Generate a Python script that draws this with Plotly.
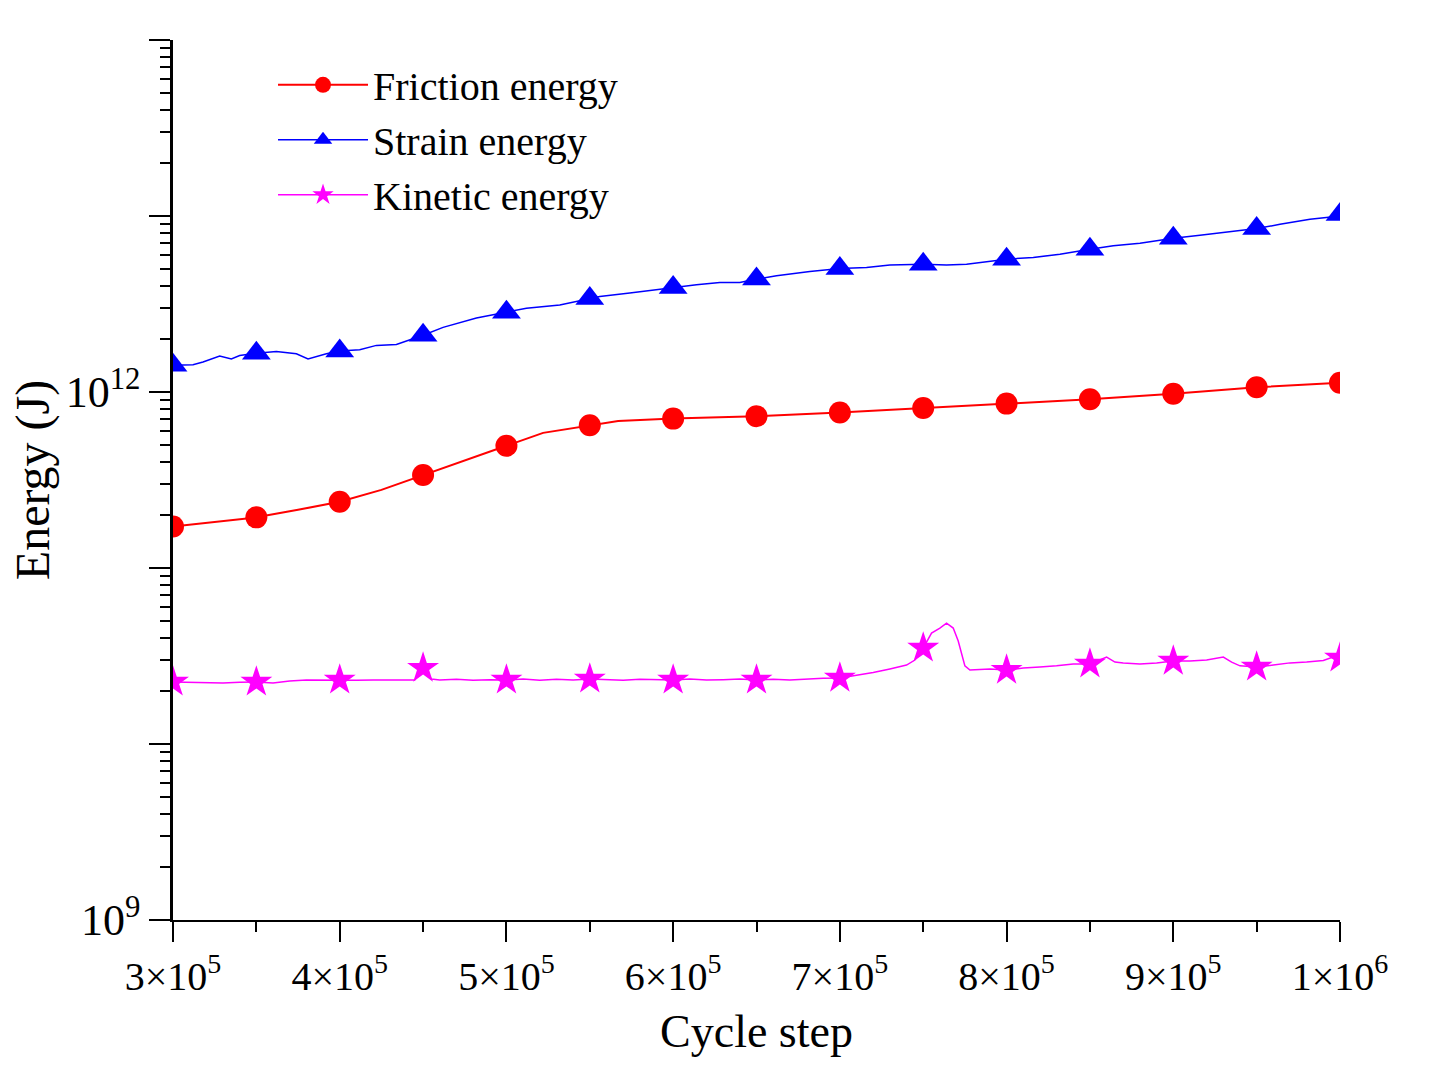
import plotly.graph_objects as go

# ---------------- data ----------------
# cycle steps in thousands, energies in J
friction_x = [300, 325, 350, 375, 400, 425, 450, 476, 500, 522, 550, 567, 600, 650,
              700, 750, 800, 850, 900, 950, 1000]
friction_y = [1.72e11, 1.82e11, 1.94e11, 2.14e11, 2.38e11, 2.78e11, 3.38e11, 4.11e11,
              4.95e11, 5.86e11, 6.48e11, 6.85e11, 7.06e11, 7.29e11, 7.64e11, 8.12e11,
              8.59e11, 9.09e11, 9.78e11, 1.063e12, 1.129e12]

strain_x = [300, 312, 318, 328, 335, 340, 350, 362, 374, 381, 392, 400, 412, 422, 434,
            444, 450, 462, 482, 492, 500, 512, 532, 550, 556, 574, 592, 600, 614, 628,
            640, 650, 662, 682, 700, 716, 730, 750, 764, 776, 784, 800, 816, 832, 850,
            864, 880, 900, 916, 932, 950, 964, 982, 996, 1000]
strain_y = [1.42e12, 1.43e12, 1.48e12, 1.60e12, 1.54e12, 1.61e12, 1.66e12, 1.70e12,
            1.65e12, 1.54e12, 1.65e12, 1.71e12, 1.74e12, 1.84e12, 1.86e12, 2.00e12,
            2.10e12, 2.33e12, 2.63e12, 2.75e12, 2.84e12, 2.99e12, 3.12e12, 3.40e12,
            3.49e12, 3.65e12, 3.83e12, 3.93e12, 4.07e12, 4.19e12, 4.19e12, 4.38e12,
            4.58e12, 4.84e12, 5.03e12, 5.10e12, 5.26e12, 5.32e12, 5.26e12, 5.32e12,
            5.44e12, 5.68e12, 5.81e12, 6.07e12, 6.47e12, 6.77e12, 7.00e12, 7.47e12,
            7.77e12, 8.12e12, 8.48e12, 8.97e12, 9.57e12, 9.91e12, 1.02e13]

kinetic_x = [300, 310, 320, 330, 340, 350, 360, 370, 380, 390, 400, 410, 420, 430, 440,
             445, 450, 455, 460, 470, 480, 490, 500, 510, 520, 530, 540, 550, 560, 570,
             580, 590, 600, 610, 620, 630, 640, 650, 660, 670, 680, 690, 700, 710, 720,
             730, 740, 745, 750, 755, 760, 764, 768, 771, 773, 775, 778, 790, 800, 810,
             820, 830, 840, 850, 860, 865, 870, 880, 890, 900, 910, 920, 930, 935, 940,
             950, 960, 970, 980, 990, 995, 1000]
kinetic_y = [2.25e10, 2.24e10, 2.25e10, 2.22e10, 2.24e10, 2.25e10, 2.22e10, 2.28e10,
             2.31e10, 2.30e10, 2.31e10, 2.30e10, 2.31e10, 2.30e10, 2.31e10, 2.31e10,
             2.70e10, 2.34e10, 2.31e10, 2.33e10, 2.30e10, 2.32e10, 2.31e10, 2.34e10,
             2.30e10, 2.33e10, 2.31e10, 2.34e10, 2.32e10, 2.30e10, 2.33e10, 2.31e10,
             2.31e10, 2.34e10, 2.31e10, 2.32e10, 2.34e10, 2.31e10, 2.33e10, 2.31e10,
             2.34e10, 2.36e10, 2.37e10, 2.45e10, 2.55e10, 2.67e10, 2.81e10, 3.00e10,
             3.51e10, 4.27e10, 4.55e10, 4.86e10, 4.56e10, 3.85e10, 3.25e10, 2.78e10,
             2.63e10, 2.67e10, 2.63e10, 2.70e10, 2.74e10, 2.78e10, 2.85e10, 2.85e10,
             3.12e10, 2.92e10, 2.89e10, 2.85e10, 2.89e10, 2.96e10, 2.96e10, 3.00e10,
             3.12e10, 2.92e10, 2.78e10, 2.74e10, 2.81e10, 2.89e10, 2.92e10, 2.98e10,
             3.10e10, 3.08e10]

x_tick_vals = [300000, 400000, 500000, 600000, 700000, 800000, 900000, 1000000]
x_tick_text = ["3×10<sup>5</sup>", "4×10<sup>5</sup>", "5×10<sup>5</sup>", "6×10<sup>5</sup>",
               "7×10<sup>5</sup>", "8×10<sup>5</sup>", "9×10<sup>5</sup>", "1×10<sup>6</sup>"]
x_minor_vals = [350000, 450000, 550000, 650000, 750000, 850000, 950000]
y_tick_vals = [1e9, 1e10, 1e11, 1e12, 1e13, 1e14]
y_tick_text = ["10<sup>9</sup>", "", "", "10<sup>12</sup>", "", ""]
y_minor_vals = [m * 10 ** e for e in range(9, 14) for m in range(2, 10)]

series = [
    ("Friction energy", friction_x, friction_y, "#FF0000", "circle", 22, 2.0),
    ("Strain energy", strain_x, strain_y, "#0000FF", "triangle-up", 25, 1.5),
    ("Kinetic energy", kinetic_x, kinetic_y, "#FF00FF", "star", 24, 1.5),
]

FONT = "Liberation Serif, Times New Roman, serif"

fig = go.Figure()
for name, xs, ys, color, sym, msize, lw in series:
    xs_full = [v * 1000 for v in xs]
    fig.add_trace(go.Scatter(x=xs_full, y=ys, mode="lines", showlegend=False,
                             line=dict(color=color, width=lw), hoverinfo="skip"))
    mx = [v * 1000 for v in xs if v % 50 == 0]
    my = [y for v, y in zip(xs, ys) if v % 50 == 0]
    fig.add_trace(go.Scatter(x=mx, y=my, mode="markers", showlegend=False,
                             marker=dict(color=color, symbol=sym, size=msize,
                                         line=dict(width=0))))
    fig.add_trace(go.Scatter(x=[None], y=[None], mode="lines+markers", name=name,
                             line=dict(color=color, width=lw),
                             marker=dict(color=color, symbol=sym, size=msize,
                                         line=dict(width=0))))

fig.update_layout(
    width=1450, height=1070,
    margin=dict(l=173, r=110, t=40, b=150),
    paper_bgcolor="white", plot_bgcolor="white",
    font=dict(family=FONT, color="black"),
    showlegend=True,
    legend=dict(x=0.0857, y=0.986, xanchor="left", yanchor="top",
                bgcolor="rgba(0,0,0,0)", font=dict(size=40, family=FONT),
                itemwidth=90, tracegroupgap=0),
    xaxis=dict(
        range=[300000, 1000000], showgrid=False, zeroline=False,
        showline=True, linecolor="black", linewidth=1.5,
        tickmode="array", tickvals=x_tick_vals, ticktext=x_tick_text,
        ticks="outside", ticklen=20, tickwidth=1.5, tickcolor="black",
        tickfont=dict(size=40, family=FONT),
        minor=dict(tickmode="array", tickvals=x_minor_vals, ticks="outside",
                   ticklen=10, tickwidth=1.5, tickcolor="black", showgrid=False),
        title=dict(text="Cycle step", font=dict(size=46, family=FONT), standoff=17),
    ),
    yaxis=dict(
        type="log", range=[9, 14], showgrid=False, zeroline=False,
        showline=True, linecolor="black", linewidth=2.5,
        tickmode="array", tickvals=y_tick_vals, ticktext=y_tick_text,
        ticks="outside", ticklen=21, tickwidth=2, tickcolor="black",
        tickfont=dict(size=44, family=FONT),
        minor=dict(tickmode="array", tickvals=y_minor_vals, ticks="outside",
                   ticklen=10, tickwidth=2, tickcolor="black", showgrid=False),
        title=dict(text="Energy (J)", font=dict(size=48, family=FONT), standoff=1),
    ),
)

fig.write_html("out.html", config={"displayModeBar": False},
               post_script="document.body.style.margin='0';")
